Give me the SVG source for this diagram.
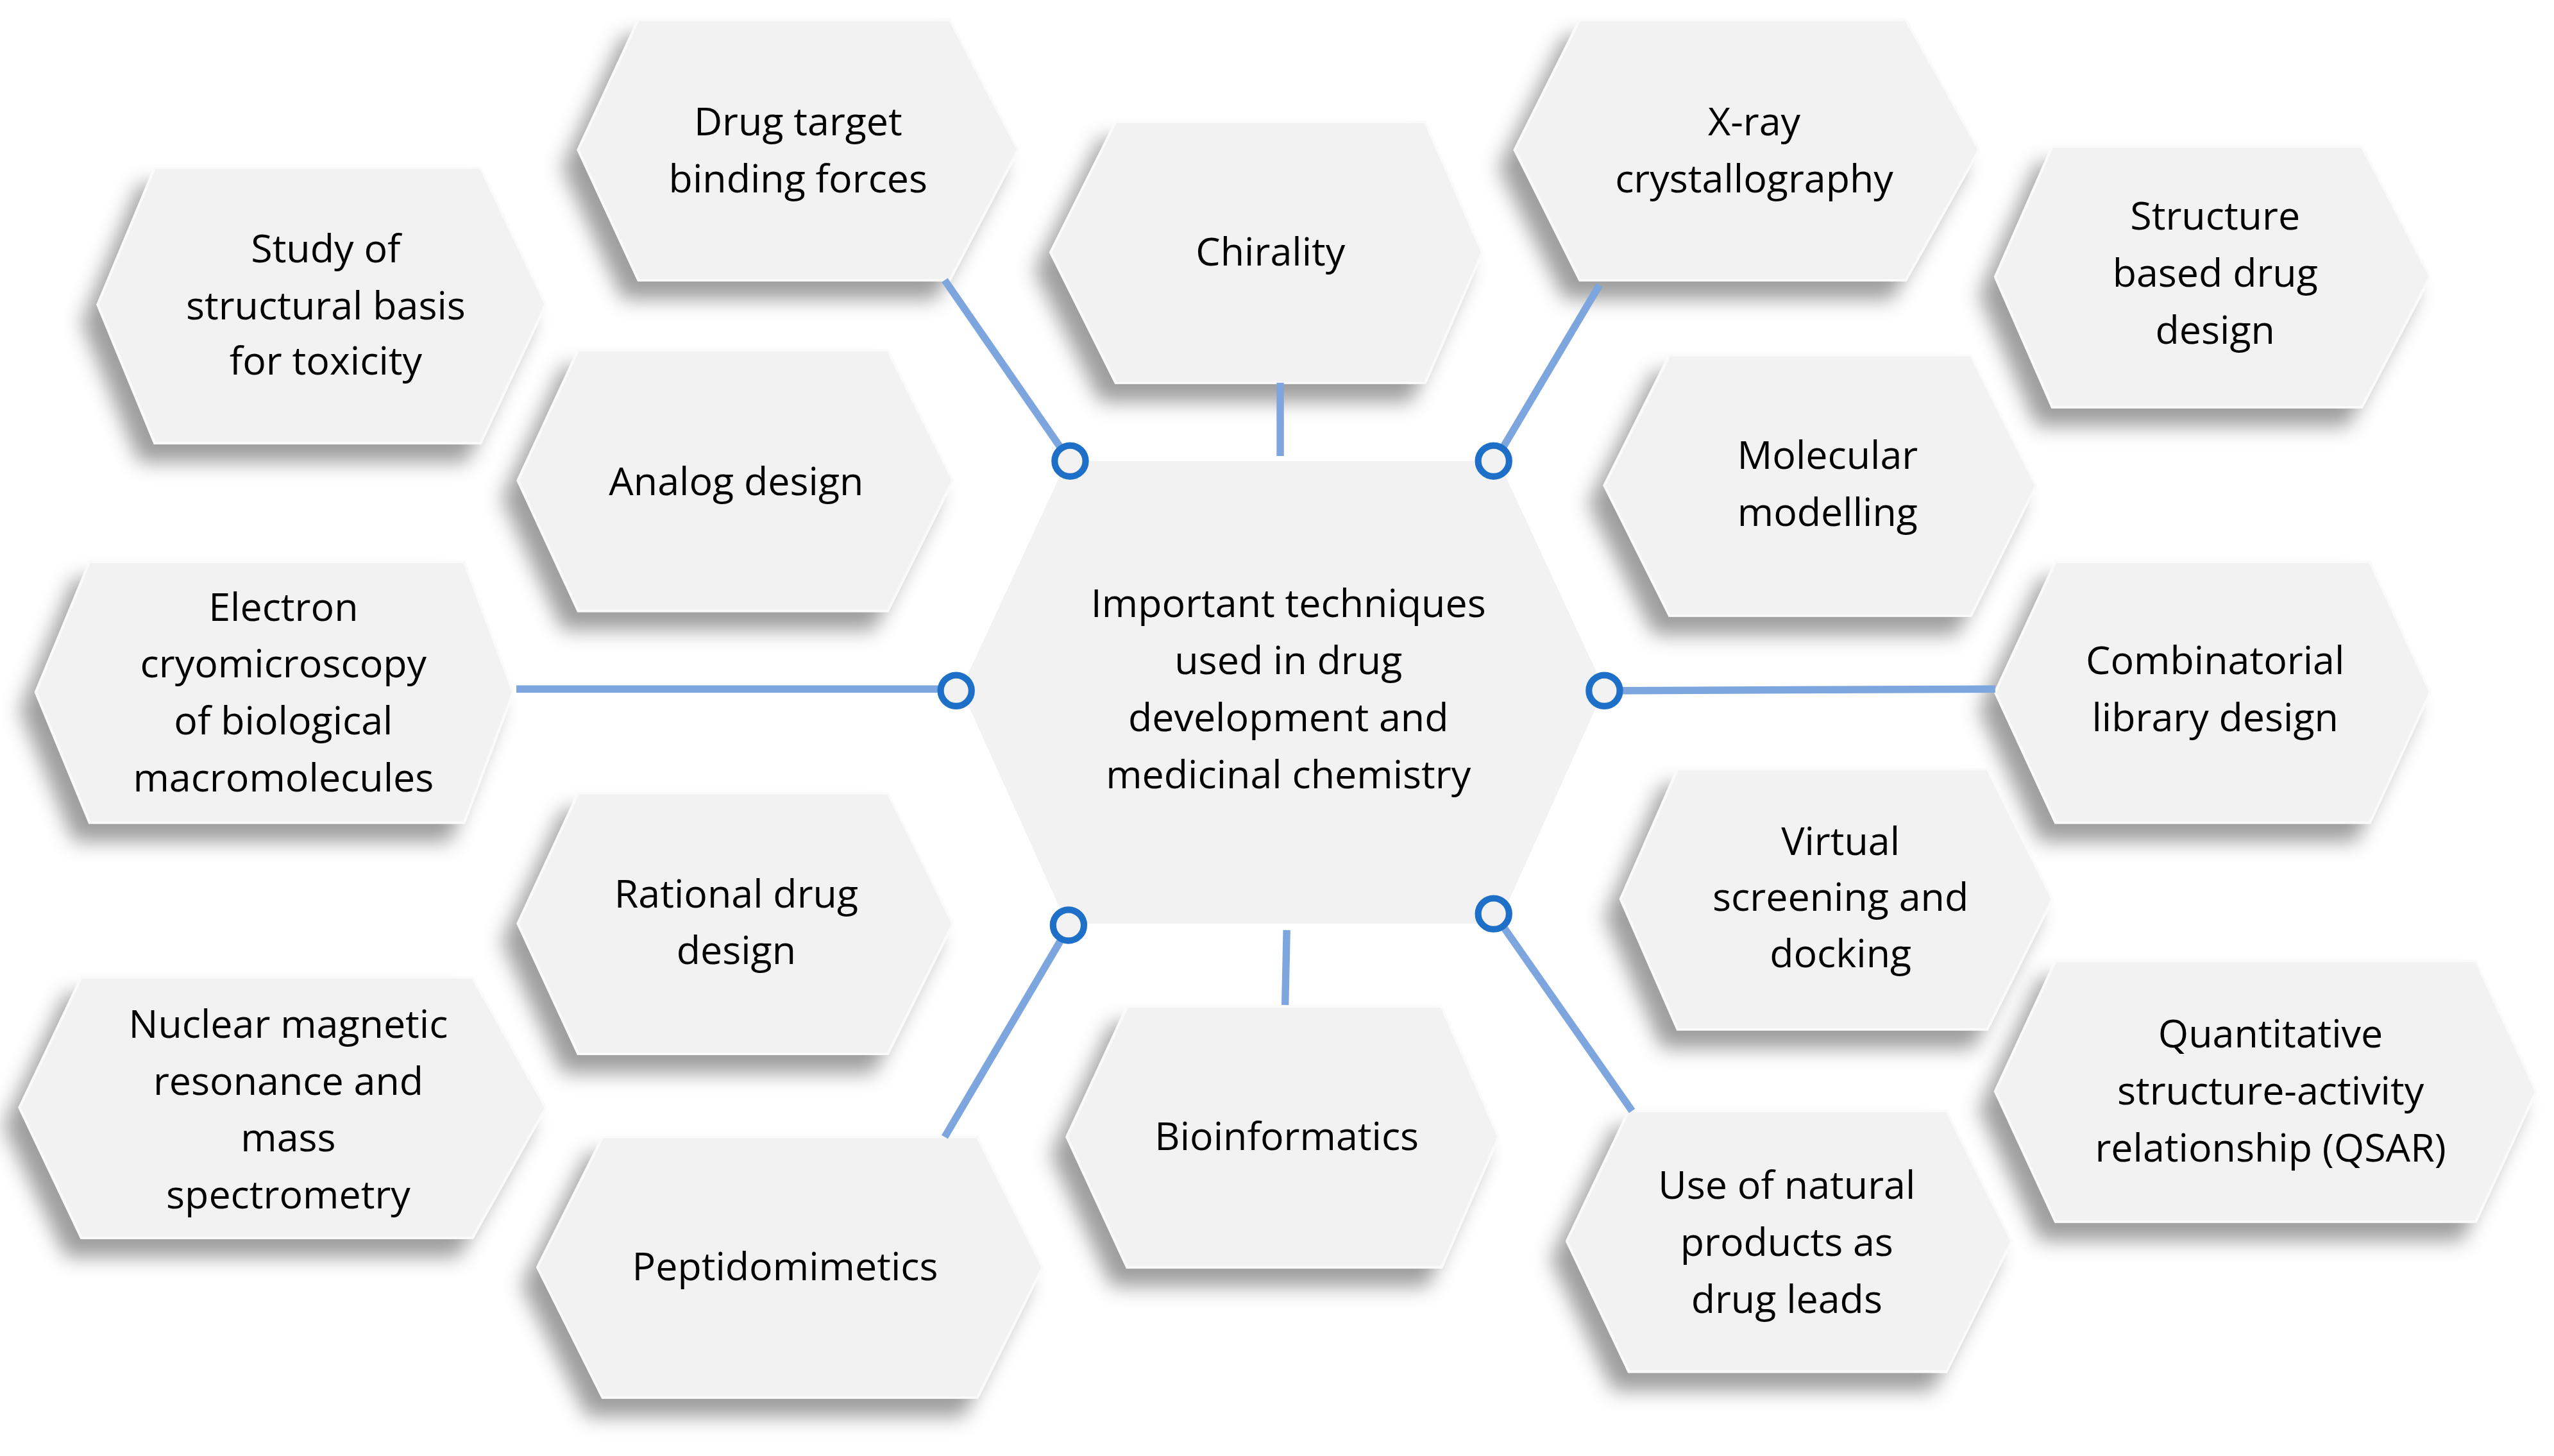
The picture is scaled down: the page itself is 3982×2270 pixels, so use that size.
<svg xmlns="http://www.w3.org/2000/svg" width="3982" height="2270" viewBox="0 0 3982 2270">
<defs>
<filter id="sh" x="-20%" y="-20%" width="140%" height="150%"><feDropShadow dx="-9" dy="11" stdDeviation="6" flood-color="#000" flood-opacity="0.38"/></filter>
</defs>
<style>
.hex{fill:#f2f2f2;stroke:#fafafa;stroke-width:1.5;filter:url(#sh)}
.hc{fill:#f2f2f2}
text{font-family:"Open Sans","Liberation Sans",sans-serif;font-size:24px;fill:#000;text-anchor:middle}
.ln{stroke:#7ea6de;stroke-width:4.5;fill:none}
.dot{fill:#f2f2f2;stroke:#1e6fc8;stroke-width:4}
</style>
<rect width="3982" height="2270" fill="#fff"/>
<g transform="scale(2.5395)">
<g id="n-drugtarget"><polygon class="hex" points="355,92 392,12 583,12 625,92 583,172 392,172"/><text x="490" y="83">Drug target</text><text x="490" y="118">binding forces</text></g>
<g id="n-toxicity"><polygon class="hex" points="60,187 95,103 295,103 335,187 295,272 95,272"/><text x="200" y="161">Study of</text><text x="200" y="196">structural basis</text><text x="200" y="230">for toxicity</text></g>
<g id="n-chirality"><polygon class="hex" points="645,155 685,75 875,75 910,155 875,235 685,235"/><text x="780" y="163">Chirality</text></g>
<g id="n-xray"><polygon class="hex" points="930,92 970,12 1170,12 1215,92 1170,172 970,172"/><text x="1077" y="83">X-ray</text><text x="1077" y="118">crystallography</text></g>
<g id="n-sbdd"><polygon class="hex" points="1225,170 1260,90 1450,90 1492,170 1450,250 1260,250"/><text x="1360" y="141">Structure</text><text x="1360" y="176">based drug</text><text x="1360" y="211">design</text></g>
<g id="n-analog"><polygon class="hex" points="318,295 355,215 545,215 585,295 545,375 355,375"/><text x="452" y="304">Analog design</text></g>
<g id="n-molmod"><polygon class="hex" points="985,298 1025,218 1210,218 1250,298 1210,378 1025,378"/><text x="1122" y="288">Molecular</text><text x="1122" y="323">modelling</text></g>
<g id="n-cryo"><polygon class="hex" points="22,425 55,345 285,345 315,425 285,505 55,505"/><text x="174" y="381">Electron</text><text x="174" y="416">cryomicroscopy</text><text x="174" y="451">of biological</text><text x="174" y="486">macromolecules</text></g>
<g id="n-combi"><polygon class="hex" points="1225,425 1262,345 1455,345 1492,425 1455,505 1262,505"/><text x="1360" y="414">Combinatorial</text><text x="1360" y="449">library design</text></g>
<g id="n-rational"><polygon class="hex" points="318,567 355,487 545,487 585,567 545,647 355,647"/><text x="452" y="557">Rational drug</text><text x="452" y="592">design</text></g>
<g id="n-virtual"><polygon class="hex" points="995,552 1030,472 1220,472 1260,552 1220,632 1030,632"/><text x="1130" y="525">Virtual</text><text x="1130" y="559">screening and</text><text x="1130" y="594">docking</text></g>
<g id="n-nmr"><polygon class="hex" points="12,680 50,600 290,600 335,680 290,760 50,760"/><text x="177" y="637">Nuclear magnetic</text><text x="177" y="672">resonance and</text><text x="177" y="707">mass</text><text x="177" y="742">spectrometry</text></g>
<g id="n-qsar"><polygon class="hex" points="1225,670 1262,590 1520,590 1557,670 1520,750 1262,750"/><text x="1394" y="643">Quantitative</text><text x="1394" y="678">structure-activity</text><text x="1394" y="713">relationship (QSAR)</text></g>
<g id="n-peptido"><polygon class="hex" points="330,778 370,698 600,698 640,778 600,858 370,858"/><text x="482" y="786">Peptidomimetics</text></g>
<g id="n-bioinfo"><polygon class="hex" points="655,698 692,618 885,618 920,698 885,778 692,778"/><text x="790" y="706">Bioinformatics</text></g>
<g id="n-natural"><polygon class="hex" points="962,762 1000,682 1195,682 1235,762 1195,842 1000,842"/><text x="1097" y="736">Use of natural</text><text x="1097" y="771">products as</text><text x="1097" y="806">drug leads</text></g>
<g id="n-center"><polygon class="hc" points="590,423 655,283 920,283 985,423 920,567 655,567"/><text x="791" y="379">Important techniques</text><text x="791" y="414">used in drug</text><text x="791" y="449">development and</text><text x="791" y="484">medicinal chemistry</text></g>
<g id="connectors">
<line class="ln" x1="580" y1="172" x2="652" y2="276"/>
<line class="ln" x1="786" y1="235" x2="786" y2="280"/>
<line class="ln" x1="982" y1="175" x2="922" y2="276"/>
<line class="ln" x1="317" y1="423" x2="578" y2="423"/>
<line class="ln" x1="994" y1="424" x2="1225" y2="423"/>
<line class="ln" x1="652" y1="576" x2="580" y2="698"/>
<line class="ln" x1="790" y1="571" x2="789" y2="617"/>
<line class="ln" x1="923" y1="569" x2="1002" y2="682"/>
<circle class="dot" cx="657" cy="283" r="9.5"/>
<circle class="dot" cx="917" cy="283" r="9.5"/>
<circle class="dot" cx="587" cy="424" r="9.5"/>
<circle class="dot" cx="985" cy="424" r="9.5"/>
<circle class="dot" cx="656" cy="568" r="9.5"/>
<circle class="dot" cx="917" cy="561" r="9.5"/>
</g>
</g>
</svg>
